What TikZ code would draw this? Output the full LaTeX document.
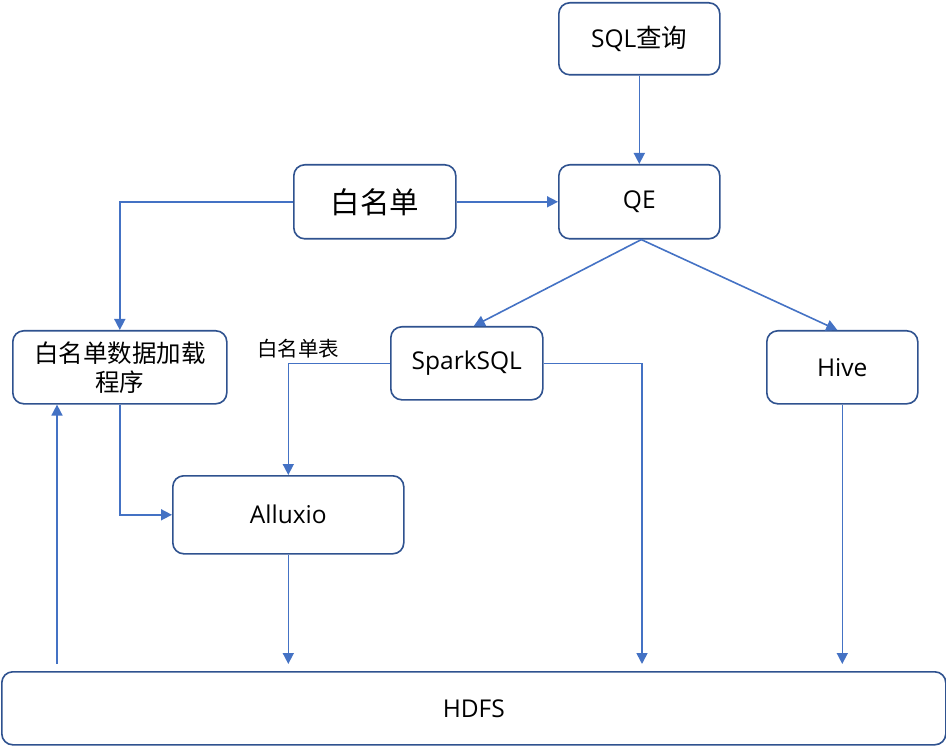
\documentclass[tikz,border=0pt]{standalone}
\usepackage{fontspec}
\setmainfont{Open Sans}
\newfontfamily\cjk{Noto Sans CJK SC}
\usetikzlibrary{arrows.meta}
\definecolor{boxline}{HTML}{2F528F}
\definecolor{arrowc}{HTML}{4472C4}
\tikzset{
  box/.style={draw=boxline, line width=1.6pt, rounded corners=11pt, fill=white, inner sep=0pt, anchor=north west, align=center},
  lat/.style={font=\fontsize{24.5}{29}\selectfont},
  conn/.style={draw=arrowc, line width=1.6pt, -{Triangle[length=11pt,width=11pt]}},
}
\begin{document}
\begin{tikzpicture}[x=1pt,y=-1pt]
\useasboundingbox (0,0) rectangle (946,746);
\node[box, lat, minimum width=161pt, minimum height=72pt] (sql) at (558,2) {SQL{\cjk\fontsize{25.5}{28}\selectfont 查询}};
\node[box, lat, minimum width=161pt, minimum height=74pt] (qe) at (558,164) {QE};
\node[box, minimum width=162pt, minimum height=74pt, font=\cjk\fontsize{29.5}{34}\selectfont] (wl) at (293,164) {白名单};
\node[box, minimum width=214pt, minimum height=73pt, font=\cjk\fontsize{24.5}{29}\selectfont] (ld) at (12,330) {白名单数据加载\\程序};
\node[box, lat, minimum width=152pt, minimum height=73pt] (sp) at (390,326) {SparkSQL};
\node[box, lat, minimum width=151pt, minimum height=73pt] (hv) at (766,330) {Hive};
\node[box, lat, minimum width=231pt, minimum height=78pt] (al) at (172,475) {Alluxio};
\node[box, lat, minimum width=944pt, minimum height=73pt] (hd) at (1,671) {HDFS};
\node[font=\cjk\fontsize{20.5}{24}\selectfont, anchor=center] (lbl) at (298,349) {白名单表};

\coordinate (hdtop) at ([yshift=7pt]hd.north);
\draw[conn] (sql.south) -- (qe.north);
\draw[conn] (wl.east) -- (qe.west);
\draw[conn] (wl.west) -| (ld.north);
\draw[conn] ([xshift=2pt]qe.south) -- ([xshift=7pt]sp.north);
\draw[conn] ([xshift=2pt]qe.south) -- ([xshift=-5pt]hv.north);
\draw[conn] (sp.west) -| (al.north);
\draw[conn] (sp.east) -| (642,0 |- hdtop);
\draw[conn] (hv.south) -- (hv.south |- hdtop);
\draw[conn] (al.south) -- (al.south |- hdtop);
\draw[conn] (ld.south) |- (al.west);
\draw[conn] (57,0 |- hdtop) -- (57,0 |- ld.south);
\end{tikzpicture}
\end{document}
